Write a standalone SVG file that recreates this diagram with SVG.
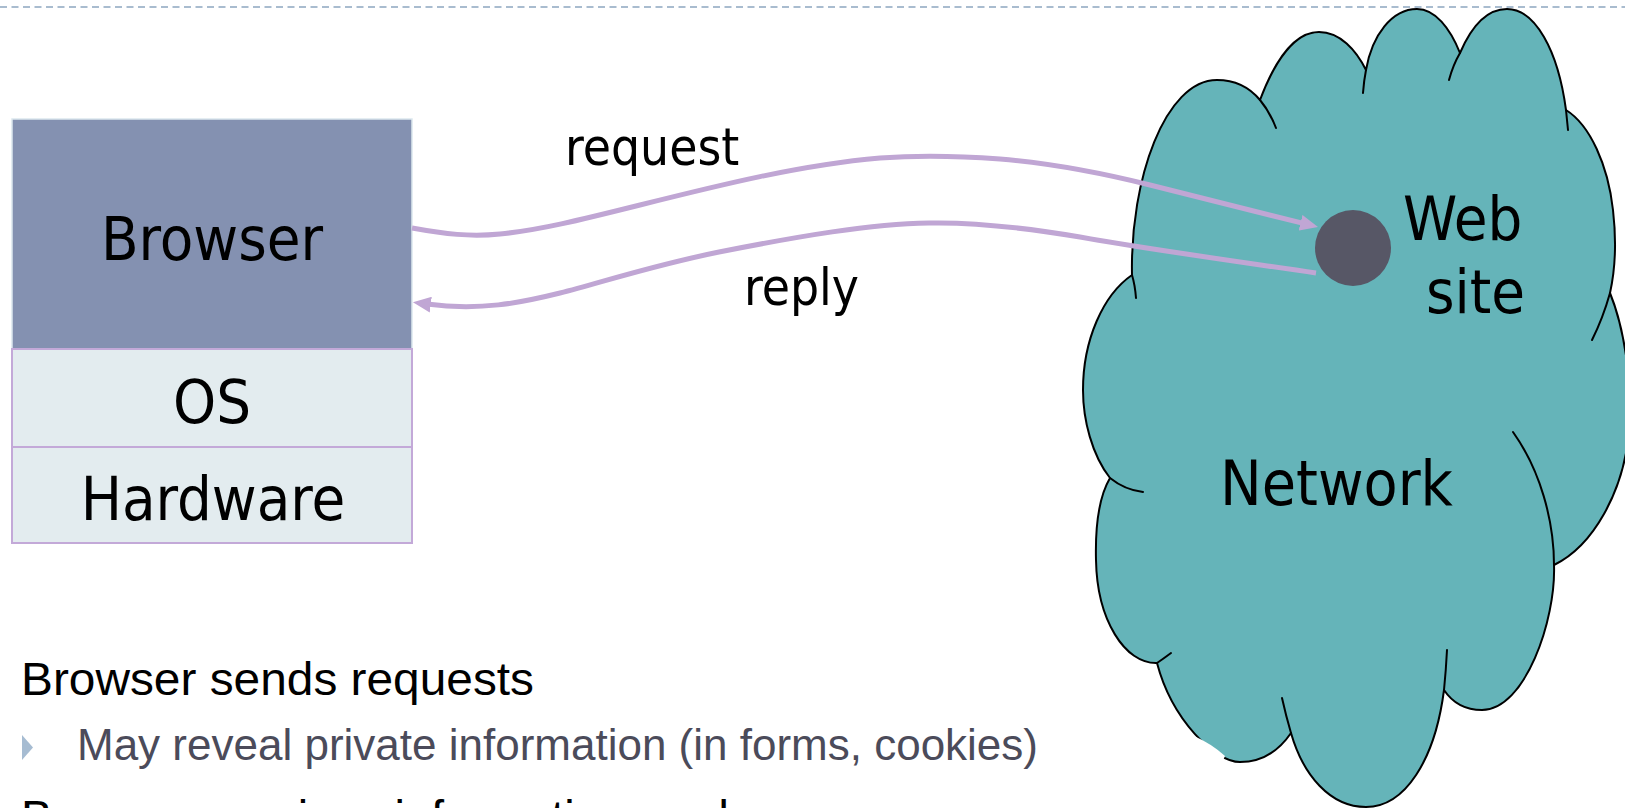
<svg xmlns="http://www.w3.org/2000/svg" width="1625" height="808" viewBox="0 0 1625 808">
  <style>
    .lbl { font-family: "DejaVu Sans Condensed", "Liberation Sans", sans-serif; fill: #000; }
    .big { font-size: 61px; }
    .edge-lbl { font-size: 51px; }
    .layer { stroke: #C3A9D8; stroke-width: 2; fill: #E3ECEF; }
    .wire { fill: none; stroke: #C0A6D4; stroke-width: 5; }
    .tail { fill: none; stroke: #000; stroke-width: 2; stroke-linecap: round; }
    .body { font-family: "Liberation Sans", Arial, sans-serif; }
  </style>
  <defs>
    <marker id="ah" viewBox="0 0 18 16" refX="4" refY="8" markerWidth="18" markerHeight="16" markerUnits="userSpaceOnUse" orient="auto">
      <path d="M0,0 L18,8 L0,16 Z" fill="#C0A6D4"/>
    </marker>
  </defs>

  <rect width="1625" height="808" fill="#fff"/>

  <!-- header rule -->
  <line x1="0" y1="7" x2="1625" y2="7" stroke="#A9BCCF" stroke-width="2" stroke-dasharray="7 4.5"/>

  <!-- client stack -->
  <g id="node-browser">
    <rect x="12" y="119" width="400" height="230" fill="#8491B1" stroke="#DCE8EE" stroke-width="1.5"/>
    <text class="lbl big" x="212" y="260" text-anchor="middle" font-size="62">Browser</text>
  </g>
  <g id="node-os">
    <rect class="layer" x="12" y="349" width="400" height="98"/>
    <text class="lbl big" x="212" y="423" text-anchor="middle" font-size="64">OS</text>
  </g>
  <g id="node-hardware">
    <rect class="layer" x="12" y="447" width="400" height="96"/>
    <text class="lbl big" x="213" y="520" text-anchor="middle" font-size="63">Hardware</text>
  </g>

  <!-- network cloud -->
  <g id="node-network">
    <path fill="#65B4B9" stroke="#000" stroke-width="2" stroke-linejoin="round" d="
      M1132,275
      C1130,180 1165,80 1217,80
      C1236,80 1250,88 1260,100
      C1275,60 1295,32 1319,32
      C1340,32 1356,50 1366,70
      C1372,35 1392,9 1417,9
      C1435,9 1450,28 1460,53
      C1472,25 1488,9 1507,9
      C1535,9 1558,50 1566,110
      C1590,125 1608,165 1613,210
      C1617,245 1614,275 1610,293
      C1625,330 1634,390 1628,440
      C1622,490 1595,545 1554,565
      C1556,620 1525,710 1482,710
      C1465,710 1452,702 1444,690
      C1435,760 1405,807 1366,807
      C1330,807 1303,775 1291,733
      C1278,752 1260,762 1240,762
      C1215,762 1172,720 1157,663
      C1125,664 1097,620 1096,560
      C1095,520 1100,495 1110,478
      C1092,455 1083,420 1083,390
      C1083,340 1103,295 1132,275 Z"/>
    <path class="tail" d="M1132,275 Q1135,285 1136,298"/>
    <path class="tail" d="M1260,100 Q1270,112 1276,128"/>
    <path class="tail" d="M1366,70 Q1364,80 1363,93"/>
    <path class="tail" d="M1460,53 Q1453,65 1449,80"/>
    <path class="tail" d="M1566,110 Q1567,120 1568,130"/>
    <path class="tail" d="M1610,293 Q1603,318 1592,340"/>
    <path class="tail" d="M1554,565 C1554,520 1540,470 1513,432"/>
    <path class="tail" d="M1444,690 Q1446,670 1447,650"/>
    <path class="tail" d="M1291,733 Q1286,716 1282,698"/>
    <path class="tail" d="M1157,663 Q1163,659 1171,653"/>
    <path class="tail" d="M1110,478 Q1125,490 1143,492"/>
    <path d="M1194,736 Q1212,744 1225,756 L1222,763 Q1206,752 1191,741 Z" fill="#fff"/>
    <text class="lbl" x="1220" y="505" font-size="62">Network</text>
  </g>

  <!-- request / reply -->
  <g id="connectors">
    <path id="edge-request" class="wire" marker-end="url(#ah)" d="M412,228 C445,234 470,237 500,234 C540,230 580,220 640,205 C720,185 800,165 880,158 C920,155 960,156 1000,159 C1060,164 1110,175 1150,185 L1304.4,223.7"/>
    <path id="edge-reply" class="wire" marker-end="url(#ah)" d="M1316,273 C1220,259 1140,248 1080,237 C1020,227 970,222 929,223 C870,224 800,236 719,252 C650,266 600,283 560,293 C520,303 480,311 426.8,304.1"/>
    <text class="lbl edge-lbl" x="565" y="165">request</text>
    <text class="lbl edge-lbl" x="744" y="305">reply</text>
  </g>

  <g id="node-website">
    <circle cx="1353" cy="248" r="38" fill="#575766"/>
    <text class="lbl big" x="1403" y="240">Web</text>
    <text class="lbl big" x="1426" y="313">site</text>
  </g>

  <!-- bullet text -->
  <g id="notes" class="body">
    <text x="21" y="695" font-size="47" fill="#000" textLength="513" lengthAdjust="spacingAndGlyphs">Browser sends requests</text>
    <polygon points="22,735 33,747.5 22,760" fill="#A6BCD2"/>
    <text x="77" y="760" font-size="44" fill="#4B4B5A">May reveal private information (in forms, cookies)</text>
    <text x="21" y="833" font-size="47" fill="#000">Browser receives information, code</text>
  </g>
</svg>
